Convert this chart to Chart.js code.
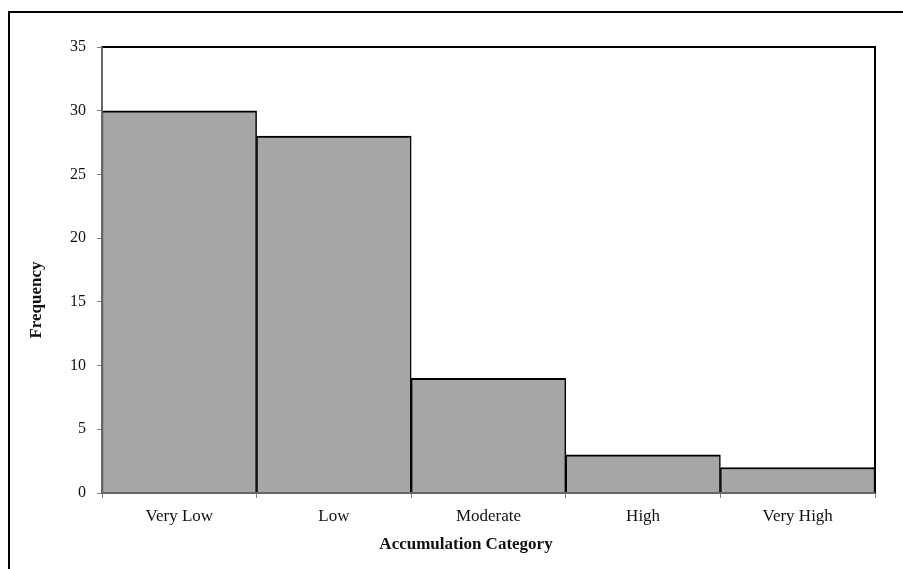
<!DOCTYPE html>
<html>
<head>
<meta charset="utf-8">
<script src="https://cdn.jsdelivr.net/npm/chart.js@4"></script>
<style>
  html, body { margin: 0; padding: 0; background: #fff; }
  #wrap { width: 903px; height: 569px; position: relative; }
</style>
</head>
<body>
<div id="wrap"><canvas id="chart" width="903" height="569"></canvas></div>
<script>
const categories = ["Very Low", "Low", "Moderate", "High", "Very High"];
const frequency = [30, 28, 9, 3, 2];
const yTicks = [0, 5, 10, 15, 20, 25, 30, 35];
const xTitle = "Accumulation Category";
const yTitle = "Frequency";

const serif = "'Liberation Serif', 'Times New Roman', serif";

// outer frame, black top/right plot border, gray axes over the bars, axis titles
const framePlugin = {
    id: 'frame',
    afterDraw(chart) {
        const ctx = chart.ctx;
        const a = chart.chartArea;
        ctx.save();
        ctx.strokeStyle = '#000';
        ctx.lineWidth = 2;
        ctx.beginPath();
        ctx.moveTo(9, 600);
        ctx.lineTo(9, 12);
        ctx.lineTo(920, 12);
        ctx.stroke();

        ctx.beginPath();
        ctx.moveTo(a.left, a.top);
        ctx.lineTo(a.right, a.top);
        ctx.lineTo(a.right, a.bottom);
        ctx.stroke();

        ctx.strokeStyle = '#666';
        ctx.beginPath();
        ctx.moveTo(a.left, a.top);
        ctx.lineTo(a.left, a.bottom);
        ctx.lineTo(a.right, a.bottom);
        ctx.stroke();

        ctx.fillStyle = '#111';
        ctx.font = "bold 17px " + serif;
        ctx.textAlign = 'center';
        ctx.textBaseline = 'middle';
        ctx.fillText(xTitle, 466, 545);
        ctx.translate(37, 300);
        ctx.rotate(-Math.PI / 2);
        ctx.fillText(yTitle, 0, 0);
        ctx.restore();
    }
};

new Chart(document.getElementById('chart'), {
    type: 'bar',
    data: {
        labels: categories,
        datasets: [{
            label: 'Frequency',
            data: frequency,
            backgroundColor: '#a6a6a6',
            borderColor: '#000',
            borderWidth: {left: 1.5, right: 1.5, top: 2, bottom: 0},
            borderSkipped: false,
            categoryPercentage: 1,
            barPercentage: 1
        }]
    },
    options: {
        responsive: false,
        animation: false,
        layout: { padding: { left: 0, top: 47, right: 28, bottom: 0 } },
        plugins: { legend: { display: false }, tooltip: { enabled: false } },
        scales: {
            x: {
                afterFit: (s) => { s.height = 76; },
                grid: { drawOnChartArea: false, tickLength: 5, color: '#808080', offset: true },
                border: { color: '#666', width: 2 },
                ticks: { color: '#111', padding: 8, font: { family: serif, size: 17 } }
            },
            y: {
                min: 0, max: 35,
                afterFit: (s) => { s.width = 102; },
                afterBuildTicks: (s) => { s.ticks = yTicks.map(v => ({ value: v })); },
                grid: { drawOnChartArea: false, tickLength: 5, color: '#808080' },
                border: { color: '#666', width: 2 },
                ticks: { color: '#111', padding: 11, font: { family: serif, size: 16 } }
            }
        }
    },
    plugins: [framePlugin]
});
</script>
</body>
</html>
